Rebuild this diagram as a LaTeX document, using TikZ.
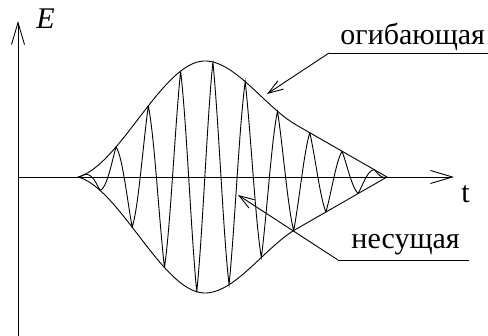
\documentclass[tikz,border=0pt]{standalone}
\usepackage{fontspec}
\setmainfont{Liberation Serif}
\newfontfamily\lbserif{Liberation Serif}
\usetikzlibrary{arrows.meta}
\begin{document}
\begin{tikzpicture}[x=1pt,y=-1pt,line width=0.9pt,
  declare function={
    ul(\x)=(\x-78)/127;
    lf(\u)=0.3*(\u*\u*\u-2*\u*\u+\u)+(-2*\u*\u*\u+3*\u*\u);
    ur(\x)=(387-\x)/182;
    rg(\s)=-0.65*\s*\s*\s+0.75*\s*\s+0.45*\s+0.45;
    rf(\u)=(\u<0.5) ? 0.9*\u : rg(2*\u-1);
    envA(\x)=116*((\x<205) ? lf(ul(\x)) : rf(ur(\x)));
    ph(\x)=(\x-116)/32.3+10;
    fr(\x)=ph(\x)-floor(ph(\x));
    wave(\x)=0.7*(abs(4*fr(\x)-2)-1)+0.3*cos(11.1455*(\x-116));
  },
  lbl/.style={font=\lbserif\fontsize{30}{32}\selectfont,inner sep=0pt},
  axisarrow/.style={-{Straight Barb[length=22pt,width=13pt,line width=0.9pt]}},
  leader/.style={-{Straight Barb[length=15pt,width=10pt,line width=0.9pt]}}]
\useasboundingbox (0,0) rectangle (488,336);
% axes
\coordinate (ybot) at (18,336);
\coordinate (ytop) at (18,21);
\coordinate (xorg) at (18,177);
\coordinate (xend) at (454,177);
\draw[axisarrow] (ybot) -- (ytop);
\draw[axisarrow] (xorg) -- (xend);
\node[lbl,anchor=base west] (E) at (36,29) {\textit{E}};
\node[lbl,anchor=base west] (t) at (461,203) {t};
% envelope
\draw plot[domain=78:387,samples=320] (\x,{177-envA(\x)});
\draw plot[domain=78:387,samples=320] (\x,{177+envA(\x)});
% carrier
\draw plot[domain=78:387,samples=1400] (\x,{177-envA(\x)*wave(\x)});
% labels
\node[lbl,anchor=base west] (og) at (340,45) {огибающая};
\coordinate (ogL) at (329,53);
\coordinate (ogR) at (488,53);
\coordinate (ogT) at (267,94);
\draw (ogR) -- (ogL);
\draw[leader] (ogL) -- (ogT);
\node[lbl,anchor=base west] (ne) at (351,249) {несущая};
\coordinate (neL) at (338,260);
\coordinate (neR) at (469,260);
\coordinate (neT) at (238,195);
\draw (neR) -- (neL);
\draw[leader] (neL) -- (neT);
\end{tikzpicture}
\end{document}
